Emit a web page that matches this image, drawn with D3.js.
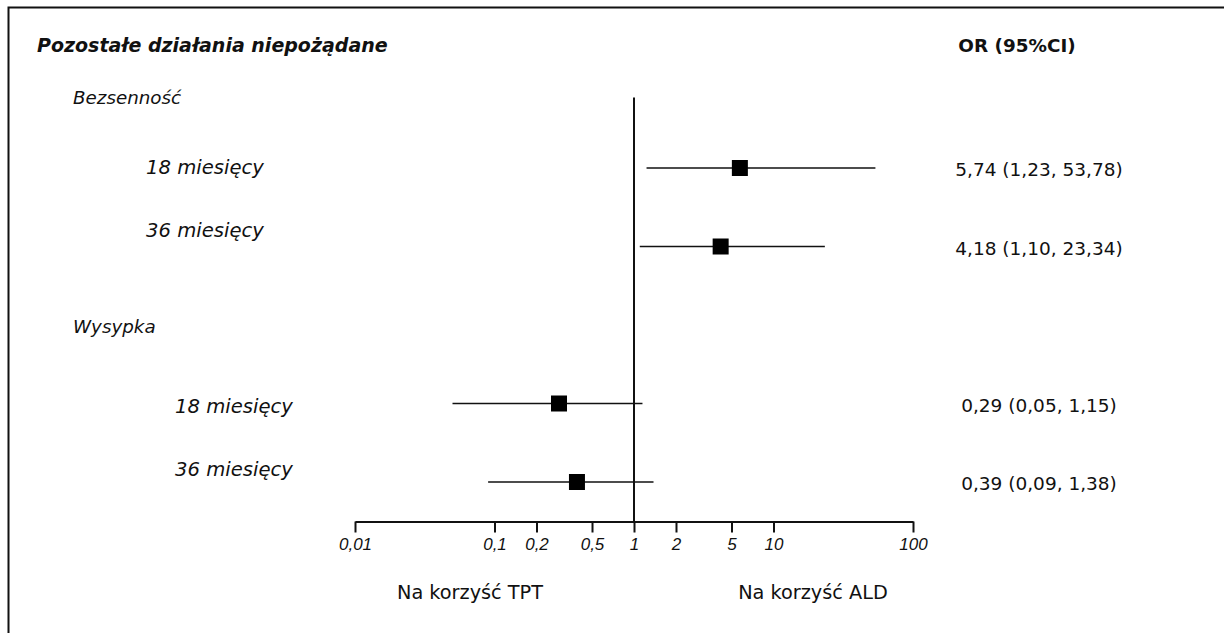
<!DOCTYPE html>
<html lang="pl">
<head>
<meta charset="utf-8">
<script src="https://cdn.jsdelivr.net/npm/d3@7"></script>
<style>
  html, body { margin: 0; padding: 0; background: #fff; }
  svg { display: block; }
  .txt { font-family: "DejaVu Sans", sans-serif; fill: #111; }
</style>
</head>
<body>
<svg id="chart" width="1224" height="633"></svg>
<script>
// Outcome groups and their rows
const groups = ["Bezsenność", "Wysypka"];
const rowGroup = ["Bezsenność", "Bezsenność", "Wysypka", "Wysypka"];
const rowLabels = ["18 miesięcy", "36 miesięcy", "18 miesięcy", "36 miesięcy"];

// Odds ratios with 95% confidence limits
const orValues = [5.74, 4.18, 0.29, 0.39];
const ciLower = [1.23, 1.10, 0.05, 0.09];
const ciUpper = [53.78, 23.34, 1.15, 1.38];

// Log axis ticks
const tickValues = [0.01, 0.1, 0.2, 0.5, 1, 2, 5, 10, 100];

const fmt = v => v.toFixed(2).replace(".", ",");
const tickFmt = v => String(v).replace(".", ",");

const svg = d3.select("#chart");

// Frame (top and left edges)
svg.append("path")
  .attr("d", "M8.5,633 V7.5 H1224")
  .attr("fill", "none").attr("stroke", "#111").attr("stroke-width", 2);

const x = d3.scaleLog().domain([0.01, 100]).range([355, 913]);

// Row slots: the Wysypka header occupies slot 2
const rowSlot = [0, 1, 3, 4];
const y = d3.scaleLinear().domain([0, 4]).range([168, 482]);
const axisY = 521.5;

// Header texts
svg.append("text").attr("class", "txt")
  .attr("x", 37).attr("y", 52)
  .style("font-size", "19px").style("font-weight", "bold").style("font-style", "italic")
  .text("Pozostałe działania niepożądane");

svg.append("text").attr("class", "txt")
  .attr("x", 1017).attr("y", 52).attr("text-anchor", "middle")
  .style("font-size", "18.4px").style("font-weight", "bold")
  .text("OR (95%CI)");

// Group headers
const groupY = [104, 333];
svg.selectAll("text.grp").data(groups).join("text")
  .attr("class", "txt grp")
  .attr("x", 73).attr("y", (d, i) => groupY[i])
  .style("font-size", "18.3px").style("font-style", "italic")
  .text(d => d);

// Row labels (the second row of each group sits a little above its marker)
const labelY = [174, 237, 413, 476];
const labelX = [146, 146, 175, 175];
svg.selectAll("text.row").data(rowLabels).join("text")
  .attr("class", "txt row")
  .attr("x", (d, i) => labelX[i]).attr("y", (d, i) => labelY[i])
  .style("font-size", "19.6px").style("font-style", "italic")
  .text(d => d);

// Line of no effect
svg.append("line")
  .attr("x1", x(1)).attr("x2", x(1))
  .attr("y1", 97.5).attr("y2", axisY)
  .attr("stroke", "#111").attr("stroke-width", 2);

// Axis
const axis = d3.axisBottom(x).tickValues(tickValues).tickFormat(tickFmt)
  .tickSize(11).tickSizeOuter(0).tickPadding(5);
const gAxis = svg.append("g").attr("transform", `translate(0,${axisY})`).call(axis);
gAxis.attr("font-size", null).attr("font-family", null);
gAxis.select(".domain").attr("stroke", "#111").attr("stroke-width", 2);
gAxis.selectAll(".tick line").attr("stroke", "#111").attr("stroke-width", 2);
gAxis.selectAll(".tick text")
  .attr("fill", "#111")
  .style("font-family", "'Liberation Sans', Arial, sans-serif")
  .style("font-style", "italic")
  .style("font-size", "17px");

// Confidence intervals
const idx = d3.range(orValues.length);
svg.selectAll("line.ci").data(idx).join("line")
  .attr("class", "ci")
  .attr("x1", i => x(ciLower[i])).attr("x2", i => x(ciUpper[i]))
  .attr("y1", i => y(rowSlot[i])).attr("y2", i => y(rowSlot[i]))
  .attr("stroke", "#111").attr("stroke-width", 1.6);

// Point estimates
const sq = 16;
svg.selectAll("rect.pt").data(idx).join("rect")
  .attr("class", "pt")
  .attr("x", i => x(orValues[i]) - sq / 2).attr("y", i => y(rowSlot[i]) - sq / 2)
  .attr("width", sq).attr("height", sq).attr("fill", "#000");

// OR (95% CI) column
svg.selectAll("text.val").data(idx).join("text")
  .attr("class", "txt val")
  .attr("x", 1039).attr("y", i => y(rowSlot[i]) + 8)
  .attr("text-anchor", "middle")
  .style("font-size", "18.5px")
  .text(i => `${fmt(orValues[i])} (${fmt(ciLower[i])}, ${fmt(ciUpper[i])})`);

// Direction labels
svg.append("text").attr("class", "txt")
  .attr("x", 470).attr("y", 599).attr("text-anchor", "middle")
  .style("font-size", "19.3px").text("Na korzyść TPT");
svg.append("text").attr("class", "txt")
  .attr("x", 813).attr("y", 599).attr("text-anchor", "middle")
  .style("font-size", "19.3px").text("Na korzyść ALD");
</script>
</body>
</html>
